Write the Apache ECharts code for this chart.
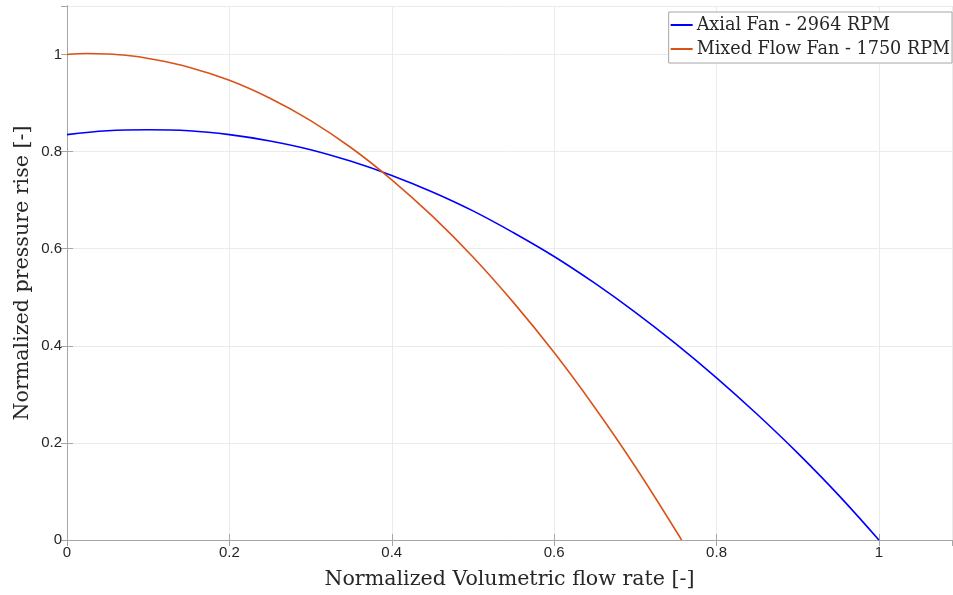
<!DOCTYPE html>
<html>
<head>
<meta charset="utf-8">
<script src="https://cdn.jsdelivr.net/npm/echarts@6/dist/echarts.min.js"></script>
<style>
  html, body { margin: 0; padding: 0; background: #fff; }
  #chart { width: 953px; height: 595px; }
</style>
</head>
<body>
<div id="chart"></div>
<script>
// values
var axialFlow = [0, 0.05, 0.1, 0.15, 0.2, 0.25, 0.3, 0.35, 0.4, 0.45, 0.5, 0.55, 0.6, 0.65, 0.7, 0.75, 0.8, 0.85, 0.9, 0.95, 1.0];
var axialPressure = [0.835, 0.843, 0.845, 0.843, 0.835, 0.822, 0.804, 0.780, 0.751, 0.717, 0.678, 0.633, 0.584, 0.529, 0.469, 0.404, 0.334, 0.259, 0.179, 0.093, 0];

var mixedFlow = [0, 0.025, 0.05, 0.075, 0.1, 0.15, 0.2, 0.25, 0.3, 0.35, 0.4, 0.45, 0.5, 0.55, 0.6, 0.65, 0.7, 0.757];
var mixedPressure = [1.000, 1.002, 1.001, 0.998, 0.992, 0.974, 0.947, 0.910, 0.864, 0.808, 0.742, 0.667, 0.583, 0.489, 0.386, 0.273, 0.151, 0];

var seriesNames = ['Axial Fan - 2964 RPM', 'Mixed Flow Fan - 1750 RPM'];
var seriesColors = ['#0000ff', '#d95319'];

var serif = '"DejaVu Serif", serif';
var sans = '"Liberation Sans", Arial, sans-serif';

function pairs(xs, ys) {
  return xs.map(function(x, i) { return [x, ys[i]]; });
}

var chart = echarts.init(document.getElementById('chart'));

var axisLineGray = { show: true, lineStyle: { color: '#a6a6a6', width: 1 } };
var gridLine = { show: true, lineStyle: { color: '#ebebeb', width: 1 } };
var tickIn = { show: true, inside: true, length: 6, lineStyle: { color: '#a6a6a6' } };

chart.setOption({
  backgroundColor: '#fff',
  animation: false,
  grid: { left: 67, right: 1, top: 6, bottom: 54, containLabel: false },
  legend: {
    right: 1, top: 12,
    orient: 'vertical',
    icon: 'rect',
    itemWidth: 22, itemHeight: 2, itemGap: 6,
    padding: [4, 2, 5, 2],
    backgroundColor: '#fff',
    borderColor: '#a6a6a6', borderWidth: 1,
    textStyle: { fontFamily: serif, fontSize: 17.6, color: '#262626', padding: [0, 0, 0, -1] },
    data: seriesNames
  },
  xAxis: [{
    type: 'value', min: 0, max: 1.09, interval: 0.2,
    name: 'Normalized Volumetric flow rate [-]',
    nameLocation: 'middle', nameGap: 29,
    nameTextStyle: { fontFamily: serif, fontSize: 20.6, color: '#262626' },
    axisLine: axisLineGray,
    axisTick: tickIn,
    axisLabel: { showMaxLabel: false, fontFamily: sans, fontSize: 15, color: '#262626', margin: 5 },
    splitLine: gridLine
  }, {
    type: 'value', position: 'top', min: 0, max: 1.09, interval: 0.2,
    axisLine: axisLineGray,
    axisTick: tickIn,
    axisLabel: { show: false },
    splitLine: { show: false }
  }],
  yAxis: [{
    type: 'value', min: 0, max: 1.1, interval: 0.2,
    name: 'Normalized pressure rise [-]',
    nameLocation: 'middle', nameGap: 34, nameMoveOverlap: false,
    nameTextStyle: { fontFamily: serif, fontSize: 20.6, color: '#262626' },
    axisLine: axisLineGray,
    axisTick: tickIn,
    axisLabel: { showMaxLabel: false, fontFamily: sans, fontSize: 15, color: '#262626', margin: 5 },
    splitLine: gridLine
  }, {
    type: 'value', position: 'right', min: 0, max: 1.1, interval: 0.2,
    axisLine: axisLineGray,
    axisTick: tickIn,
    axisLabel: { show: false },
    splitLine: { show: false }
  }],
  series: [{
    name: seriesNames[0],
    type: 'line',
    smooth: 0.4,
    symbol: 'none',
    data: pairs(axialFlow, axialPressure),
    lineStyle: { color: seriesColors[0], width: 1.6 },
    itemStyle: { color: seriesColors[0] }
  }, {
    name: seriesNames[1],
    type: 'line',
    smooth: 0.4,
    symbol: 'none',
    data: pairs(mixedFlow, mixedPressure),
    lineStyle: { color: seriesColors[1], width: 1.6 },
    itemStyle: { color: seriesColors[1] }
  }]
});
</script>
</body>
</html>
